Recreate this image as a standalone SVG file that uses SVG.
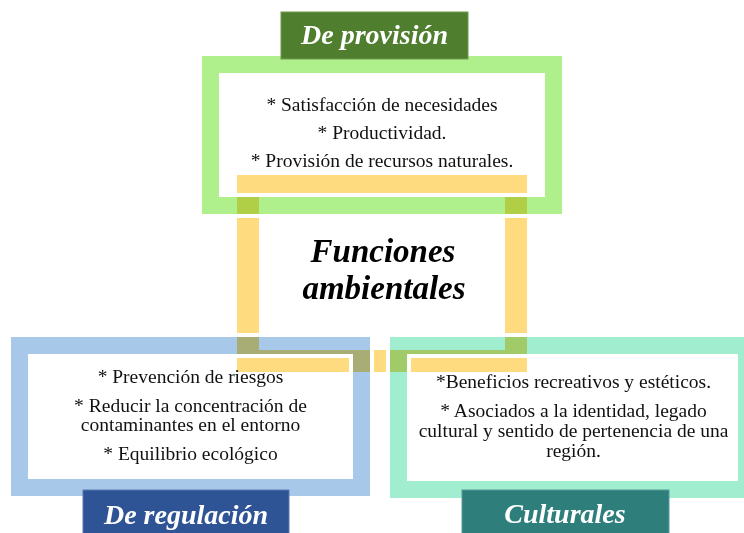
<svg xmlns="http://www.w3.org/2000/svg" xmlns:xlink="http://www.w3.org/1999/xlink" width="744" height="533" viewBox="0 0 744 533">
<style>
.body{font-family:"Liberation Serif","Times New Roman",serif;font-size:19.5px;fill:#111;text-anchor:middle}
.head{font-family:"Liberation Serif","Times New Roman",serif;font-size:28px;font-weight:bold;font-style:italic;fill:#fff;text-anchor:middle}
.title{font-family:"Liberation Serif","Times New Roman",serif;font-size:33px;font-weight:bold;font-style:italic;fill:#000;text-anchor:middle}
.outline{fill:none;stroke:#fff;stroke-width:8}
.band{fill-rule:evenodd;mix-blend-mode:multiply}
</style>
<defs>
<path id="yellow-ring" d="M237 175H527V372H237Z M259 197V350H505V197Z" fill="#FFDB80" fill-rule="evenodd"/>
<clipPath id="clip-green"><path d="M202 56H562V214H202Z M219 73V197H545V73Z" clip-rule="evenodd"/></clipPath>
<clipPath id="clip-blue"><path d="M11 337H370V496H11Z M28 354V479H353V354Z" clip-rule="evenodd"/></clipPath>
<clipPath id="clip-teal"><path d="M390 337H755V498H390Z M407 354V481H738V354Z" clip-rule="evenodd"/></clipPath>
</defs>
<rect width="744" height="533" fill="#fff"/>
<g id="connectors">
<use xlink:href="#yellow-ring" href="#yellow-ring"/>
</g>
<g id="center">
<text class="title" x="383" y="262">Funciones</text>
<text class="title" x="384" y="299">ambientales</text>
</g>
<g id="provision">
<path class="outline" d="M202 56H562V214H202Z M219 73V197H545V73Z"/>
<use xlink:href="#yellow-ring" href="#yellow-ring" clip-path="url(#clip-green)"/>
<path class="band" d="M202 56H562V214H202Z M219 73V197H545V73Z" fill="#B0F08C"/>
<text class="body" x="382" y="111">* Satisfacción de necesidades</text>
<text class="body" x="382" y="139">* Productividad.</text>
<text class="body" x="382" y="167">* Provisión de recursos naturales.</text>
<rect x="281" y="12" width="187" height="47" fill="#507E2F" stroke="#6E9A50" stroke-width="1"/>
<text class="head" x="374.5" y="44">De provisión</text>
</g>
<g id="regulacion">
<path class="outline" d="M11 337H370V496H11Z M28 354V479H353V354Z"/>
<use xlink:href="#yellow-ring" href="#yellow-ring" clip-path="url(#clip-blue)"/>
<path class="band" d="M11 337H370V496H11Z M28 354V479H353V354Z" fill="#A8C8EA"/>
<text class="body" x="190.5" y="383">* Prevención de riesgos</text>
<text class="body" x="190.5" y="412">* Reducir la concentración de</text>
<text class="body" x="190.5" y="431">contaminantes en el entorno</text>
<text class="body" x="190.5" y="460">* Equilibrio ecológico</text>
<rect x="83" y="490" width="206" height="50" fill="#2F5496" stroke="#5B78AE" stroke-width="1"/>
<text class="head" x="186" y="524">De regulación</text>
</g>
<g id="culturales">
<path class="outline" d="M390 337H755V498H390Z M407 354V481H738V354Z"/>
<use xlink:href="#yellow-ring" href="#yellow-ring" clip-path="url(#clip-teal)"/>
<path class="band" d="M390 337H755V498H390Z M407 354V481H738V354Z" fill="#A0EDCF"/>
<text class="body" x="573.5" y="388">*Beneficios recreativos y estéticos.</text>
<text class="body" x="573.5" y="417">* Asociados a la identidad, legado</text>
<text class="body" x="573.5" y="437">cultural y sentido de pertenencia de una</text>
<text class="body" x="573.5" y="457">región.</text>
<rect x="462" y="490" width="207" height="50" fill="#2E7E7C" stroke="#5A9A98" stroke-width="1"/>
<text class="head" x="565" y="523">Culturales</text>
</g>
</svg>
